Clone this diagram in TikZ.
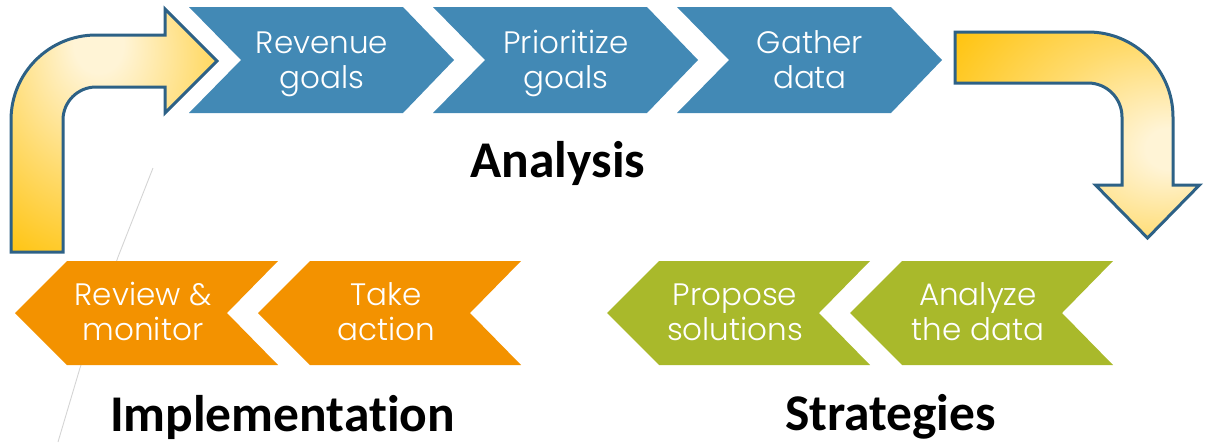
\documentclass[tikz,border=0pt]{standalone}
\usepackage{fontspec}
\setmainfont{Poppins}[UprightFont=* Light]
\newfontfamily\headfont{Carlito}[Ligatures=CommonOff]
\definecolor{stepblue}{HTML}{4289B5}
\definecolor{steporange}{HTML}{F39200}
\definecolor{stepgreen}{HTML}{A9B92B}
\definecolor{arrowedge}{HTML}{2D6186}
\definecolor{cream}{HTML}{FFF4D6}
\definecolor{midgold}{HTML}{FFDB6E}
\definecolor{gold}{HTML}{FFC000}
\definecolor{decoline}{HTML}{D4D4D4}
% soft glow for the two bent arrows (path box spans -25bp..25bp)
\pgfdeclareradialshading{glowleft}{\pgfpoint{-4bp}{19bp}}{color(0bp)=(cream); color(6bp)=(cream); color(25bp)=(midgold); color(46bp)=(gold); color(100bp)=(gold)}
\pgfdeclareradialshading{glowright}{\pgfpoint{20bp}{-3.5bp}}{color(0bp)=(cream); color(5bp)=(cream); color(24bp)=(midgold); color(48bp)=(gold); color(100bp)=(gold)}
\tikzset{
  steptext/.style={text=white, align=center, inner sep=0pt, anchor=center,
    font=\fontsize{31}{35}\selectfont},
  phasetitle/.style={text=black, inner sep=0pt, anchor=base,
    font=\headfont\bfseries\fontsize{51.5}{60}\selectfont},
  bentarrow/.style={draw=arrowedge, line width=3pt, line join=miter},
}
\begin{document}
\begin{tikzpicture}[x=1pt, y=-1pt]
\useasboundingbox (0,0) rectangle (1208,442);

% thin background stroke
\draw[decoline, line width=0.9pt] (153,168) -- (118,257) -- (80,368) -- (58,442);

% left bent arrow (up, then right)
\path[bentarrow, shading=glowleft]
  (11,252) -- (11,120) arc[start angle=180, end angle=270, radius=85]
  -- (165,35) -- (165,9) -- (217,61) -- (165,113) -- (165,87) -- (96,87)
  arc[start angle=270, end angle=180, radius=33] -- (63,252) -- cycle;

% right bent arrow (right, then down)
\path[bentarrow, shading=glowright]
  (955,32) -- (1088,32) arc[start angle=270, end angle=360, radius=85]
  -- (1173,185) -- (1199.5,185) -- (1147.5,238) -- (1095.5,185) -- (1122,185)
  -- (1122,117) arc[start angle=0, end angle=-90, radius=34] -- (955,83) -- cycle;

% analysis: chevrons pointing right
\foreach \x in {189,433,677}
  \fill[stepblue] (\x,7) -- ++(214,0) -- ++(51,53) -- ++(-51,53) -- ++(-214,0) -- ++(52,-53) -- cycle;

% implementation and strategies: chevrons pointing left
\foreach \x/\c in {15/steporange,258/steporange,607/stepgreen,850/stepgreen}
  \fill[\c] (\x,313) -- ++(52,-52) -- ++(211,0) -- ++(-51,52) -- ++(51,52) -- ++(-211,0) -- cycle;

% step labels
\node[steptext] (revenue)  at (322,63.5)  {\strut Revenue\\\strut goals};
\node[steptext] (priority) at (566,63.5)  {\strut Prioritize\\\strut goals};
\node[steptext] (gather)   at (810,63.5)  {\strut Gather\\\strut data};
\node[steptext] (review)   at (143,315.5) {\strut Review \&\\\strut monitor};
\node[steptext] (action)   at (386,315.5) {\strut Take\\\strut action};
\node[steptext] (propose)  at (735,315.5) {\strut Propose\\\strut solutions};
\node[steptext] (analyze)  at (978,315.5) {\strut Analyze\\\strut the data};

% phase titles
\node[phasetitle] (analysis)       at (558,177)   {Analysis};
\node[phasetitle] (implementation) at (282.5,431) {Implementation};
\node[phasetitle] (strategies)     at (890.5,430) {Strategies};
\end{tikzpicture}
\end{document}
